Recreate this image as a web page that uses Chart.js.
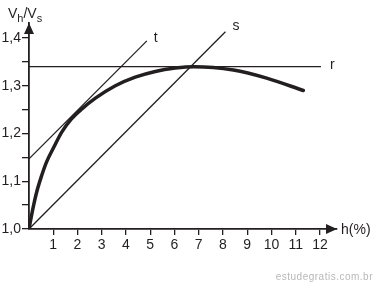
<!DOCTYPE html>
<html><head><meta charset="utf-8">
<script src="https://cdn.jsdelivr.net/npm/chart.js@4/dist/chart.umd.min.js"></script>
<style>html,body{margin:0;padding:0;background:#fff}canvas{display:block}</style>
</head><body>
<canvas id="c" width="375" height="283"></canvas>
<script>
// Curve Vh/Vs vs h(%)
const curveX = [0, 0.15, 0.32, 0.53, 0.73, 1.01, 1.35, 1.76, 2.17, 2.74, 3.56, 4.38, 5.21, 6.03, 6.8, 8.43, 9.8, 11.31];
const curveY = [1.0, 1.04, 1.078, 1.113, 1.141, 1.170, 1.203, 1.231, 1.251, 1.274, 1.300, 1.318, 1.330, 1.337, 1.340, 1.333, 1.316, 1.290];
// Straight lines r, t, s
const lineRX = [0, 12.04], lineRY = [1.34, 1.34];
const lineTX = [0, 4.86],  lineTY = [1.147, 1.394];
const lineSX = [0, 8.1],   lineSY = [1.0, 1.413];
const lineNames = ['r', 't', 's'];
// Axis ticks
const xTicks = [1,2,3,4,5,6,7,8,9,10,11,12];
const yTicks = [1.0,1.05,1.1,1.15,1.2,1.25,1.3,1.35,1.4];
const xTitle = 'h(%)';

const INK = '#231f20';
const FONT = '"Liberation Sans", Arial, sans-serif';
const pts = (xs, ys) => xs.map((x,i)=>({x, y: ys[i]}));

const extras = {
  id: 'extras',
  afterDraw(chart) {
    const {ctx, chartArea: a, scales: {x, y}} = chart;
    ctx.save();
    ctx.fillStyle = INK;
    // arrowheads
    ctx.beginPath();
    ctx.moveTo(a.right, a.bottom); ctx.lineTo(a.right - 11, a.bottom - 5); ctx.lineTo(a.right - 11, a.bottom + 5); ctx.closePath(); ctx.fill();
    ctx.beginPath();
    ctx.moveTo(a.left, a.top); ctx.lineTo(a.left - 5, a.top + 11); ctx.lineTo(a.left + 5, a.top + 11); ctx.closePath(); ctx.fill();
    // axis titles
    ctx.textBaseline = 'alphabetic';
    ctx.textAlign = 'left';
    ctx.font = '14px ' + FONT;
    ctx.fillText(xTitle, a.right + 4, a.bottom + 5);
    let px = 8;
    const parts = [['V',14,0],['h',11,4],['/V',14,0],['s',11,4]];
    for (const [t, s, dy] of parts) {
      ctx.font = s + 'px ' + FONT;
      ctx.fillText(t, px, 18 + dy);
      px += ctx.measureText(t).width;
    }
    // line labels
    ctx.font = '14px ' + FONT;
    const ends = [[lineRX, lineRY, 9, 2], [lineTX, lineTY, 7, 1], [lineSX, lineSY, 7, -2]];
    ends.forEach(([xs, ys, ox, oy], i) => {
      const ex = x.getPixelForValue(xs[xs.length-1]);
      const ey = y.getPixelForValue(ys[ys.length-1]);
      ctx.fillText(lineNames[i], ex + ox, ey + oy);
    });
    // watermark
    ctx.fillStyle = '#b8b8b8';
    ctx.font = '10px ' + FONT;
    ctx.letterSpacing = '0.5px';
    ctx.textAlign = 'right';
    ctx.fillText('estudegratis.com.br', 373, 280);
    ctx.restore();
  }
};

const lineDs = (xs, ys) => ({data: pts(xs, ys), borderColor: INK, borderWidth: 1.3, pointRadius: 0, tension: 0, fill: false, showLine: true});

new Chart(document.getElementById('c'), {
  type: 'scatter',
  data: { datasets: [
    {data: pts(curveX, curveY), borderColor: INK, borderWidth: 3.5, pointRadius: 0, showLine: true, cubicInterpolationMode: 'monotone', borderCapStyle: 'round', fill: false},
    lineDs(lineRX, lineRY),
    lineDs(lineTX, lineTY),
    lineDs(lineSX, lineSY)
  ]},
  options: {
    responsive: false, animation: false, devicePixelRatio: 1,
    layout: {padding: {top: 23, right: 38, left: 0, bottom: 0}},
    plugins: {legend: {display: false}, tooltip: {enabled: false}},
    elements: {line: {borderJoinStyle: 'round'}},
    scales: {
      x: {
        type: 'linear', min: 0, max: 12.7,
        afterBuildTicks: s => { s.ticks = xTicks.map(v => ({value: v})); },
        afterFit: s => { s.height = 54; },
        grid: {drawOnChartArea: false, drawTicks: true, tickLength: 6, color: INK, lineWidth: 1.3},
        border: {color: INK, width: 1.8},
        ticks: {color: INK, font: {family: FONT, size: 14}, padding: 2, maxRotation: 0, autoSkip: false, callback: v => String(v)}
      },
      y: {
        type: 'linear', min: 1.0, max: 1.4314,
        afterBuildTicks: s => { s.ticks = yTicks.map(v => ({value: v})); },
        afterFit: s => { s.width = 29; },
        grid: {drawOnChartArea: false, drawTicks: true, tickLength: 7, color: INK, lineWidth: 1.3},
        border: {color: INK, width: 1.8},
        ticks: {color: INK, font: {family: FONT, size: 14}, padding: 1, autoSkip: false,
          callback: v => (Math.abs(v*10 - Math.round(v*10)) < 1e-6) ? v.toFixed(1).replace('.', ',') : ''}
      }
    }
  },
  plugins: [extras]
});
</script>
</body></html>
